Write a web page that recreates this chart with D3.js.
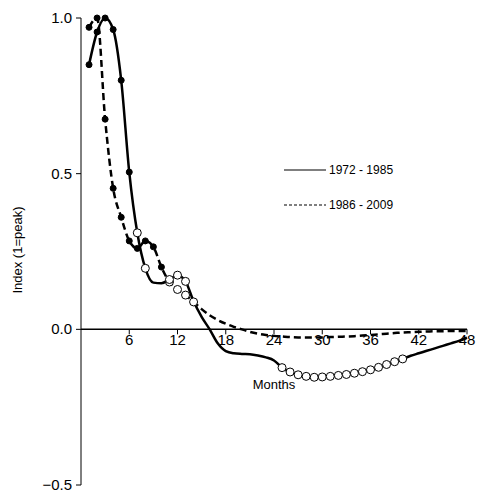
<!DOCTYPE html>
<html lang="en">
<head>
<meta charset="UTF-8">
<script src="https://cdn.jsdelivr.net/npm/d3@7"></script>
<style>
  body { margin: 0; background: #fff; }
  text { font-family: Arial, "Liberation Sans", sans-serif; fill: #000; }
</style>
</head>
<body>
<svg id="chart" width="482" height="500"></svg>
<script>
// months 1..48
var solid = [0.85,0.955,1.0,0.963,0.80,0.505,0.31,0.196,0.15,0.148,0.16,0.174,0.154,0.09,0.04,0.0,
  -0.045,-0.07,-0.077,-0.079,-0.08,-0.084,-0.09,-0.1,-0.123,-0.137,-0.146,-0.151,-0.154,-0.153,-0.151,-0.148,
  -0.145,-0.141,-0.136,-0.13,-0.122,-0.113,-0.104,-0.095,-0.085,-0.077,-0.069,-0.061,-0.053,-0.045,-0.037,-0.027];
// marker type per month: 1 filled, 2 open, 0 none
var solidMark = [1,1,1,1,1,1,2,2,0,0,2,2,2,0,0,0, 0,0,0,0,0,0,0,0,2,2,2,2,2,2,2,2, 2,2,2,2,2,2,2,2,0,0,0,0,0,0,0,0];
var dashed = [0.97,1.0,0.675,0.453,0.36,0.284,0.26,0.284,0.265,0.20,0.152,0.128,0.11,0.088,0.065,0.045,
  0.03,0.018,0.008,0.0,-0.008,-0.014,-0.018,-0.021,-0.023,-0.025,-0.026,-0.026,-0.026,-0.026,-0.025,-0.024,
  -0.023,-0.022,-0.02,-0.018,-0.016,-0.014,-0.012,-0.01,-0.009,-0.008,-0.007,-0.006,-0.006,-0.005,-0.005,-0.005];
var dashedMark = [1,1,1,1,1,1,1,1,1,1,2,2,2,2];
var xTicks = [6,12,18,24,30,36,42,48];
var yTicks = [-0.5,0.0,0.5,1.0];
var seriesNames = ["1972 - 1985","1986 - 2009"];

var svg = d3.select("#chart");
var x = d3.scaleLinear().domain([0,48]).range([81,467]);
var y = d3.scaleLinear().domain([-0.5,1.0]).range([485,18]);

// y axis
svg.append("line").attr("x1",x(0)).attr("x2",x(0)).attr("y1",y(1)).attr("y2",y(-0.5)).attr("stroke","#000");
yTicks.forEach(function(t){
  svg.append("line").attr("x1",x(0)-5).attr("x2",x(0)).attr("y1",y(t)).attr("y2",y(t)).attr("stroke","#000");
  svg.append("text").attr("x",x(0)-9).attr("y",y(t)+5).attr("text-anchor","end")
    .attr("font-size",15).text(d3.format(".1f")(t));
});
// x axis at zero
svg.append("line").attr("x1",x(0)).attr("x2",x(48)).attr("y1",y(0)).attr("y2",y(0)).attr("stroke","#000").attr("stroke-width",1.5);
xTicks.forEach(function(t){
  svg.append("line").attr("x1",x(t)).attr("x2",x(t)).attr("y1",y(0)).attr("y2",y(0)+5).attr("stroke","#000");
  svg.append("text").attr("x",x(t)).attr("y",y(0)+16).attr("text-anchor","middle")
    .attr("font-size",15).text(t);
});

svg.append("text").attr("x",274).attr("y",389).attr("text-anchor","middle").attr("font-size",13).text("Months");
svg.append("text").attr("transform","translate(22,250) rotate(-90)").attr("text-anchor","middle")
  .attr("font-size",13).text("Index (1=peak)");

var line = d3.line().x(function(d,i){return x(i+1);}).y(function(d){return y(d);}).curve(d3.curveMonotoneX);
svg.append("path").attr("d",line(dashed)).attr("fill","none").attr("stroke","#000").attr("stroke-width",2.5).attr("stroke-dasharray","7,4");
svg.append("path").attr("d",line(solid)).attr("fill","none").attr("stroke","#000").attr("stroke-width",2.5);

function marks(vals, types){
  vals.forEach(function(v,i){
    var t = types[i];
    if (!t) return;
    svg.append("circle").attr("cx",x(i+1)).attr("cy",y(v)).attr("r",t===1?3:4)
      .attr("fill",t===1?"#000":"#fff").attr("stroke","#000").attr("stroke-width",1);
  });
}
marks(dashed, dashedMark);
marks(solid, solidMark);

// legend
[0,1].forEach(function(k){
  var ly = 170 + k*35;
  svg.append("line").attr("x1",284).attr("x2",326).attr("y1",ly).attr("y2",ly)
    .attr("stroke","#000").attr("stroke-width",1.2).attr("stroke-dasharray",k?"3,2":null);
  svg.append("text").attr("x",329).attr("y",ly+4).attr("font-size",12).text(seriesNames[k]);
});
</script>
</body>
</html>
